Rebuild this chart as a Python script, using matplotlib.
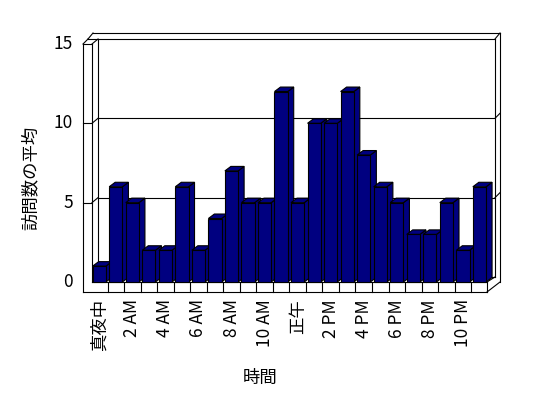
import matplotlib
matplotlib.use("Agg")
import matplotlib.pyplot as plt
from matplotlib.patches import Polygon

plt.rcParams['font.family'] = ['Noto Sans CJK JP', 'DejaVu Sans']

# データ
時間ラベル = ["真夜中", "2 AM", "4 AM", "6 AM", "8 AM", "10 AM",
          "正午", "2 PM", "4 PM", "6 PM", "8 PM", "10 PM"]
訪問数 = [1, 6, 5, 2, 2, 6, 2, 4, 7, 5, 5, 12,
         5, 10, 10, 12, 8, 6, 5, 3, 3, 5, 2, 6]
目盛 = [0, 5, 10, 15]

# 画素 -> データ座標 (枠の描画用)
SX, SY = 16.53, 15.87
X0, Y0 = 91.0, 282.0
FS = 12.5


def px(x):
    return -0.5 + (x - X0) / SX


def py(y):
    return (Y0 - y) / SY


def main():
    fig = plt.figure(figsize=(5.48, 3.98), dpi=100)
    ax = fig.add_axes([0, 0, 1, 1])
    ax.set_xlim(px(0), px(548))
    ax.set_ylim(py(398), py(0))
    ax.axis("off")

    def line(x1, y1, x2, y2):
        ax.plot([px(x1), px(x2)], [py(y1), py(y2)], color="black", lw=0.8, zorder=2)

    # 左の壁
    line(83, 44, 83, 292)
    line(92, 44, 92, 282)
    line(83, 44, 92, 44)
    line(83, 44, 88, 39)
    line(92, 44, 98, 39)
    line(88, 39, 98, 39)
    line(88, 39, 93, 33)
    # 奥の壁
    line(93, 33, 500, 33)
    line(98, 39, 495, 39)
    line(495, 39, 500, 33)
    line(500, 33, 500, 282)
    line(495, 39, 495, 277)
    line(98, 39, 98, 277)
    # 床
    line(83, 292, 487, 292)
    line(92, 282, 487, 282)
    line(98, 277, 495, 277)
    line(487, 282, 495, 277)
    line(487, 292, 500, 282)
    line(487, 282, 487, 292)
    for k in range(1, len(訪問数)):
        ax.plot([k - 0.5, k - 0.5], [0, py(292)], color="black", lw=0.8, zorder=2)

    # 目盛線
    for v in 目盛:
        yf = Y0 - v * SY
        if 0 < v < 15:
            line(83, yf, 92, yf)
            line(92, yf, 98, yf - 5)
            line(98, yf - 5, 495, yf - 5)
            line(495, yf - 5, 500, yf - 10)
        ax.text(px(73), v, str(v), ha="right", va="center", fontsize=FS)

    # 棒
    dx, dy = 6 / SX, 4.5 / SY
    w = 0.8
    xs = list(range(len(訪問数)))
    bars = ax.bar(xs, 訪問数, width=w, color="#000080", edgecolor="black", linewidth=0.8)
    for i, (b, v) in enumerate(zip(bars, 訪問数)):
        b.set_zorder(10 + 2 * i + 1)
        l, r = i - w / 2, i + w / 2
        side = Polygon([(r, 0), (r + dx, dy), (r + dx, v + dy), (r, v)],
                       facecolor="#000080", edgecolor="black", lw=0.8, zorder=10 + 2 * i)
        top = Polygon([(l, v), (l + dx, v + dy), (r + dx, v + dy), (r, v)],
                      facecolor="#000080", edgecolor="black", lw=0.8, zorder=10 + 2 * i)
        ax.add_patch(side)
        ax.add_patch(top)

    # 横軸ラベル
    for j, lab in enumerate(時間ラベル):
        ax.text(2 * j, py(299), lab, rotation=90, ha="center", va="top", fontsize=FS)

    ax.text(px(260), py(378), "時間", ha="center", va="center", fontsize=FS)
    ax.text(px(31), py(178), "訪問数の平均", rotation=90, ha="center", va="center", fontsize=FS)

    fig.savefig("out.png", dpi=100)
    plt.close(fig)


if __name__ == "__main__":
    main()
